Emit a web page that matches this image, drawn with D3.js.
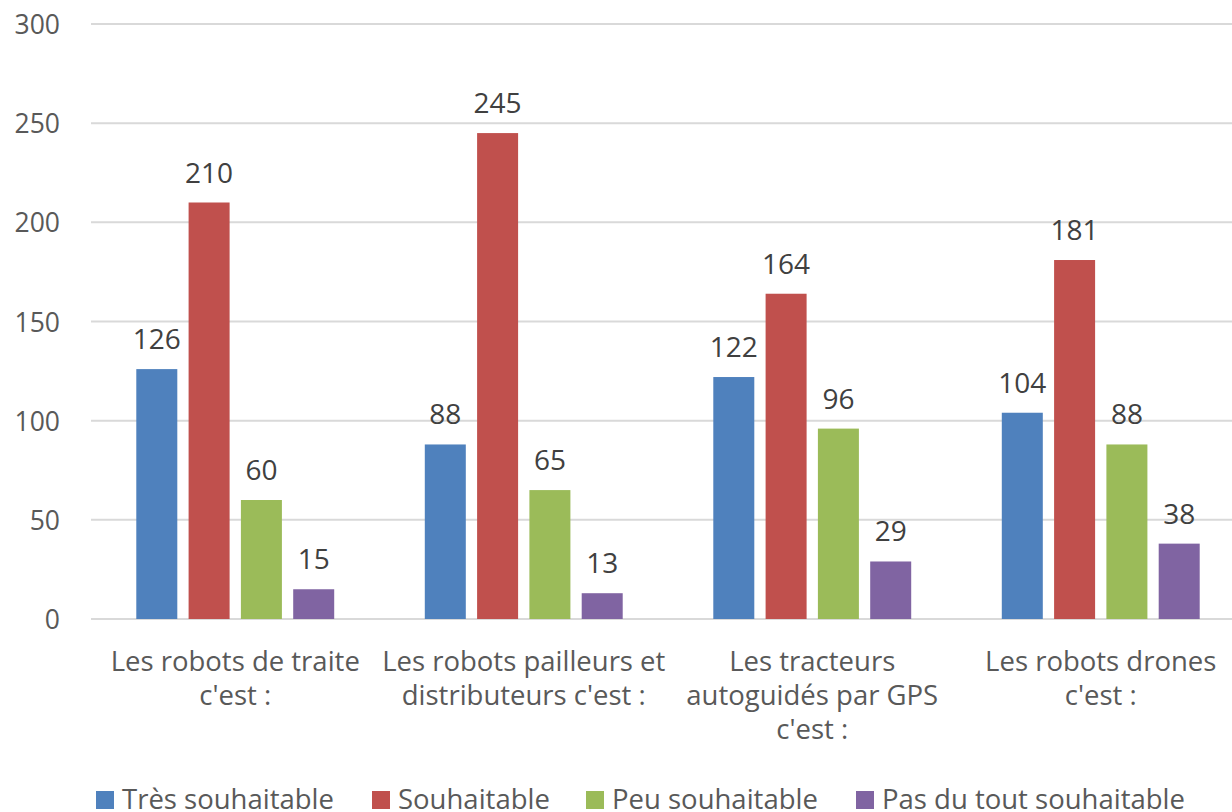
<!DOCTYPE html>
<html lang="fr"><head>
<meta charset="utf-8">
<title>Robots</title>
<script src="https://cdnjs.cloudflare.com/ajax/libs/d3/7.8.5/d3.min.js"></script>
<style>
  body { margin: 0; background: #fff; }
  svg text { font-family: "Open Sans", sans-serif; }
</style>
</head>
<body>
<div id="chart"></div>
<script>
// data
var categories = [
  ["Les robots de traite", "c'est :"],
  ["Les robots pailleurs et", "distributeurs c'est :"],
  ["Les tracteurs", "autoguidés par GPS", "c'est :"],
  ["Les robots drones", "c'est :"]
];
var seriesNames = ["Très souhaitable", "Souhaitable", "Peu souhaitable", "Pas du tout souhaitable"];
var tresSouhaitable = [126, 88, 122, 104];
var souhaitable = [210, 245, 164, 181];
var peuSouhaitable = [60, 65, 96, 88];
var pasDuTout = [15, 13, 29, 38];
var yTicks = [0, 50, 100, 150, 200, 250, 300];
var colors = ["#4F81BD", "#C0504D", "#9BBB59", "#8064A2"];

var allSeries = [tresSouhaitable, souhaitable, peuSouhaitable, pasDuTout];
var width = 1232, height = 812;

var svg = d3.select("#chart").append("svg")
  .attr("width", width).attr("height", height);

var catIdx = d3.range(categories.length);
var x0 = d3.scaleBand().domain(catIdx).range([91, 1245]).padding(0);
var x1 = d3.scaleBand().domain(d3.range(seriesNames.length))
  .range([0, x0.bandwidth()]).paddingInner(0.216).paddingOuter(0.866);
var y = d3.scaleLinear().domain([0, 300]).range([619, 24]);

// gridlines
svg.append("g").selectAll("line").data(yTicks).enter().append("line")
  .attr("x1", 91).attr("x2", width)
  .attr("y1", function(d) { return y(d); }).attr("y2", function(d) { return y(d); })
  .attr("stroke", "#D9D9D9").attr("stroke-width", 2);

// y axis labels
svg.append("g").selectAll("text").data(yTicks).enter().append("text")
  .attr("x", 60).attr("y", function(d) { return y(d) + 10; })
  .attr("text-anchor", "end").attr("fill", "#595959").style("font-size", "26.5px")
  .text(function(d) { return d; });

// bars
var groups = svg.append("g").selectAll("g").data(catIdx).enter().append("g")
  .attr("transform", function(c) { return "translate(" + x0(c) + ",0)"; });

groups.selectAll("rect").data(function(c) {
    return allSeries.map(function(s, i) { return { s: i, v: s[c] }; });
  }).enter().append("rect")
  .attr("x", function(d) { return x1(d.s); })
  .attr("width", x1.bandwidth())
  .attr("y", function(d) { return y(d.v); })
  .attr("height", function(d) { return y(0) - y(d.v); })
  .attr("fill", function(d) { return colors[d.s]; });

groups.selectAll("text.val").data(function(c) {
    return allSeries.map(function(s, i) { return { s: i, v: s[c] }; });
  }).enter().append("text").attr("class", "val")
  .attr("x", function(d) { return x1(d.s) + x1.bandwidth() / 2; })
  .attr("y", function(d) { return y(d.v) - 20; })
  .attr("text-anchor", "middle").attr("fill", "#404040").style("font-size", "28px")
  .text(function(d) { return d.v; });

// category labels
svg.append("g").selectAll("text").data(catIdx).enter().append("text")
  .attr("text-anchor", "middle").attr("fill", "#595959").style("font-size", "27.5px")
  .each(function(c) {
    var t = d3.select(this);
    categories[c].forEach(function(line, i) {
      t.append("tspan").attr("x", x0(c) + x0.bandwidth() / 2)
        .attr("y", 671 + i * 34).text(line);
    });
  });

// legend
var legendX = [96, 372, 586, 856];
var leg = svg.append("g").selectAll("g").data(seriesNames).enter().append("g")
  .attr("transform", function(d, i) { return "translate(" + legendX[i] + ",791)"; });
leg.append("rect").attr("width", 18).attr("height", 18)
  .attr("fill", function(d, i) { return colors[i]; });
leg.append("text").attr("x", 26).attr("y", 18)
  .attr("fill", "#595959").style("font-size", "27.5px")
  .text(function(d) { return d; });
</script>
</body></html>
